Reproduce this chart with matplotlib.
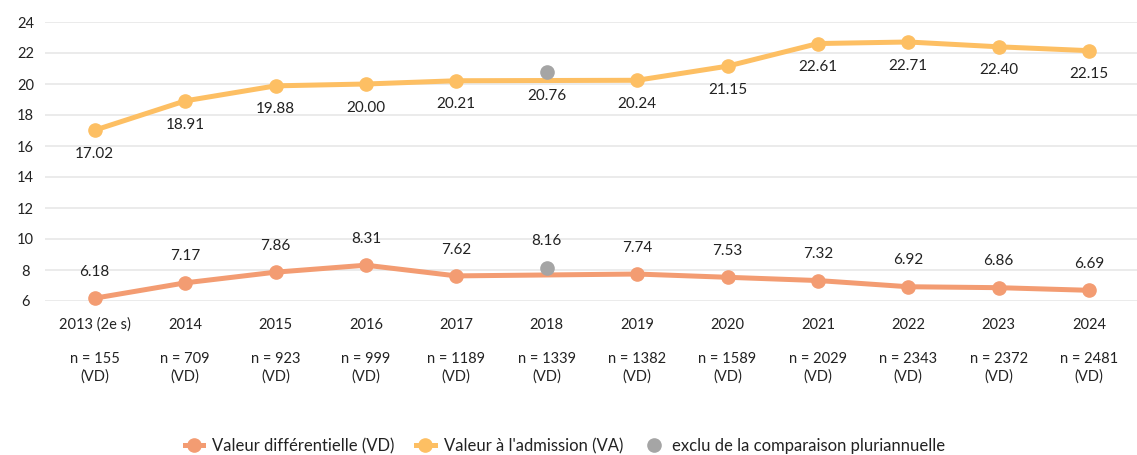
import matplotlib
matplotlib.use("Agg")
import matplotlib.pyplot as plt
from matplotlib.lines import Line2D

plt.rcParams['font.family'] = ['Lato', 'DejaVu Sans']

years = ["2013 (2e s)", "2014", "2015", "2016", "2017", "2018", "2019",
         "2020", "2021", "2022", "2023", "2024"]
vd = [6.18, 7.17, 7.86, 8.31, 7.62, 8.16, 7.74, 7.53, 7.32, 6.92, 6.86, 6.69]
va = [17.02, 18.91, 19.88, 20.00, 20.21, 20.76, 20.24, 21.15, 22.61, 22.71, 22.40, 22.15]
n_counts = [155, 709, 923, 999, 1189, 1339, 1382, 1589, 2029, 2343, 2372, 2481]
excluded = [5]
yticks = [6, 8, 10, 12, 14, 16, 18, 20, 22, 24]

C_VD = "#F39C72"
C_VA = "#FDBF63"
C_EX = "#A5A5A5"
TXT = "#222222"

fig = plt.figure(figsize=(11.37, 4.55), dpi=100)
ax = fig.add_axes([45 / 1137, 1 - 301 / 455, 1 - 45 / 1137, 279 / 455])

x = list(range(len(years)))
keep = [i for i in x if i not in excluded]

for vals, col in ((va, C_VA), (vd, C_VD)):
    ax.plot([x[i] for i in keep], [vals[i] for i in keep], color=col, lw=3.6,
            marker="o", ms=9.5, solid_capstyle="round", zorder=3, clip_on=False)
    ax.plot([x[i] for i in excluded], [vals[i] for i in excluded], ls="none",
            marker="o", ms=9.5, color=C_EX, zorder=4, clip_on=False)

for i in x:
    ax.annotate(f"{va[i]:.2f}", (i, va[i]), xytext=(0, -17), textcoords="offset points",
                ha="center", va="center", fontsize=11, color=TXT)
    ax.annotate(f"{vd[i]:.2f}", (i, vd[i]), xytext=(0, 19), textcoords="offset points",
                ha="center", va="center", fontsize=11, color=TXT)

ax.set_xlim(-0.55, len(years) - 1 + 0.53)
ax.set_ylim(6, 24)
ax.set_yticks(yticks)
ax.set_xticks(x)
ax.set_xticklabels(years)
ax.tick_params(axis="both", length=0, labelsize=10.5, colors=TXT)
ax.tick_params(axis="x", pad=12)
ax.tick_params(axis="y", pad=14)
for lab in ax.get_yticklabels():
    lab.set_horizontalalignment("center")
ax.grid(axis="y", color="#E8E8E8", lw=1.2)
ax.set_axisbelow(True)
for s in ax.spines.values():
    s.set_visible(False)

for i in x:
    ax.text(i, -51 / 279, f"n = {n_counts[i]}\n(VD)", transform=ax.get_xaxis_transform(),
            ha="center", va="top", fontsize=10.5, color=TXT, linespacing=1.3)

handles = [
    Line2D([0], [0], color=C_VD, lw=3.6, marker="o", ms=9.5),
    Line2D([0], [0], color=C_VA, lw=3.6, marker="o", ms=9.5),
    Line2D([0], [0], color=C_EX, ls="none", marker="o", ms=9.5),
]
labels = ["Valeur différentielle (VD)", "Valeur à l'admission (VA)",
          "exclu de la comparaison pluriannuelle"]
fig.legend(handles, labels, loc="center", bbox_to_anchor=(565 / 1137, 1 - 446 / 455),
           ncol=3, frameon=False, fontsize=12, handlelength=1.1, columnspacing=1.3,
           handletextpad=0.55, labelcolor=TXT)

fig.savefig("out.png", dpi=100)
